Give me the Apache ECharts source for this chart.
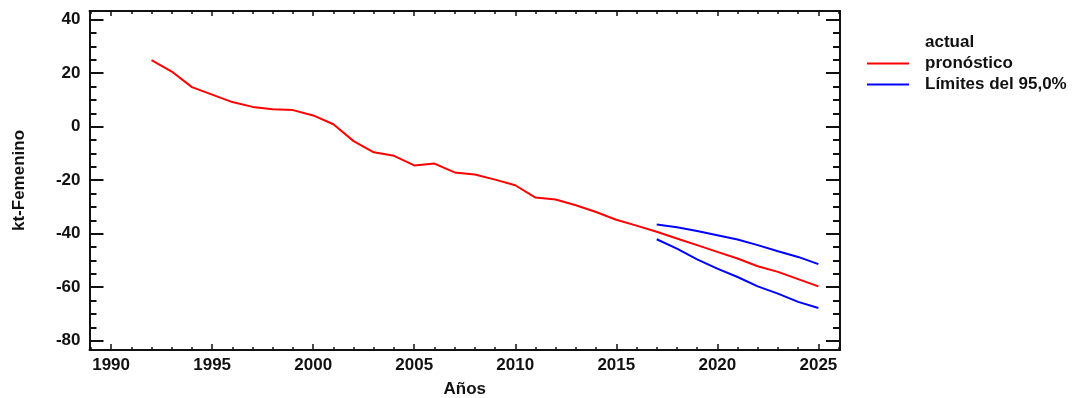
<!DOCTYPE html>
<html>
<head>
<meta charset="utf-8">
<script src="https://cdn.jsdelivr.net/npm/echarts@6/dist/echarts.min.js"></script>
<style>
  html, body { margin: 0; padding: 0; background: #ffffff; }
  #chart { width: 1088px; height: 398px; }
</style>
</head>
<body>
<div id="chart"></div>
<script>
// Fitted / forecast series (1992-2025)
const years = [1992, 1993, 1994, 1995, 1996, 1997, 1998, 1999, 2000, 2001, 2002, 2003,
  2004, 2005, 2006, 2007, 2008, 2009, 2010, 2011, 2012, 2013, 2014, 2015, 2016, 2017,
  2018, 2019, 2020, 2021, 2022, 2023, 2024, 2025];
const forecast = [24.9, 20.6, 14.8, 12.0, 9.2, 7.4, 6.5, 6.2, 4.2, 0.9, -5.4, -9.6,
  -10.9, -14.5, -13.8, -17.1, -17.9, -19.8, -21.9, -26.5, -27.2, -29.4, -31.9, -34.8, -37.0, -39.3,
  -41.8, -44.3, -46.8, -49.3, -52.2, -54.3, -57.0, -59.7];

// 95% limits (2017-2025)
const limitYears = [2017, 2018, 2019, 2020, 2021, 2022, 2023, 2024, 2025];
const upperLimit = [-36.6, -37.6, -39.0, -40.6, -42.2, -44.3, -46.6, -48.7, -51.4];
const lowerLimit = [-42.1, -45.6, -49.6, -53.1, -56.2, -59.7, -62.4, -65.5, -67.8];

// Tick positions and labels
const xMajorTicks = [1990, 1995, 2000, 2005, 2010, 2015, 2020, 2025];
const xMinorTicks = [1989, 1990, 1991, 1992, 1993, 1994, 1995, 1996, 1997, 1998, 1999, 2000,
  2001, 2002, 2003, 2004, 2005, 2006, 2007, 2008, 2009, 2010, 2011, 2012, 2013, 2014, 2015,
  2016, 2017, 2018, 2019, 2020, 2021, 2022, 2023, 2024, 2025, 2026];
const yMajorTicks = [-80, -60, -40, -20, 0, 20, 40];
const yMinorTicks = [-80, -75, -70, -65, -60, -55, -50, -45, -40, -35, -30, -25, -20, -15, -10,
  -5, 0, 5, 10, 15, 20, 25, 30, 35, 40];

const seriesNames = ['actual', 'pronóstico', 'Límites del 95,0%'];

const FONT = '"Liberation Sans", Arial, sans-serif';
const FS = 17;
const INK = '#111111';
const X_MIN = 1988.93, X_MAX = 2026.07;
const Y_MIN = -83.5, Y_MAX = 43.25;

const gridRect = { left: 89.5, right: 248, top: 11, bottom: 48, outerBoundsMode: 'none' };

function xAxis(gridIndex, position, ticks, len, opts) {
  return Object.assign({
    type: 'value', gridIndex: gridIndex, position: position,
    min: X_MIN, max: X_MAX,
    axisLine: { show: gridIndex === 0, onZero: false, lineStyle: { color: INK, width: 2 } },
    axisTick: { show: true, inside: true, length: len, customValues: ticks,
      lineStyle: { color: INK, width: 1.5 } },
    axisLabel: { show: false },
    splitLine: { show: false }
  }, opts || {});
}

function yAxis(gridIndex, position, ticks, len, opts) {
  return Object.assign({
    type: 'value', gridIndex: gridIndex, position: position,
    min: Y_MIN, max: Y_MAX,
    axisLine: { show: gridIndex === 0, onZero: false, lineStyle: { color: INK, width: 2 } },
    axisTick: { show: true, inside: true, length: len, customValues: ticks,
      lineStyle: { color: INK, width: 2 } },
    axisLabel: { show: false },
    splitLine: { show: false }
  }, opts || {});
}

const chart = echarts.init(document.getElementById('chart'), null, { renderer: 'canvas' });

chart.setOption({
  animation: false,
  backgroundColor: '#ffffff',
  textStyle: { fontFamily: FONT },
  grid: [
    Object.assign({}, gridRect),
    Object.assign({}, gridRect)
  ],
  legend: {
    orient: 'vertical',
    left: 867,
    top: 32,
    padding: 0,
    itemGap: 0,
    itemWidth: 42,
    itemHeight: 2,
    icon: 'rect',
    selectedMode: false,
    data: [
      { name: seriesNames[0], itemStyle: { color: 'rgba(0,0,0,0)' } },
      { name: seriesNames[1] },
      { name: seriesNames[2] }
    ],
    textStyle: {
      fontFamily: FONT, fontWeight: 'bold', fontSize: FS, color: INK,
      lineHeight: 21, padding: [0, 0, 0, 11]
    }
  },
  xAxis: [
    xAxis(0, 'bottom', xMajorTicks, 6, {
      name: 'Años', nameLocation: 'middle', nameGap: 31,
      nameTextStyle: { fontFamily: FONT, fontWeight: 'bold', fontSize: FS, color: INK },
      axisLabel: { show: true, customValues: xMajorTicks, margin: 7,
        fontFamily: FONT, fontWeight: 'bold', fontSize: FS, color: INK,
        formatter: v => String(v) }
    }),
    xAxis(0, 'top', xMajorTicks, 5),
    xAxis(1, 'bottom', xMinorTicks, 3),
    xAxis(1, 'top', xMinorTicks, 3)
  ],
  yAxis: [
    yAxis(0, 'left', yMajorTicks, 14, {
      name: 'kt-Femenino', nameLocation: 'middle', nameGap: 62,
      nameTextStyle: { fontFamily: FONT, fontWeight: 'bold', fontSize: FS, color: INK },
      axisLabel: { show: true, customValues: yMajorTicks, margin: 9,
        fontFamily: FONT, fontWeight: 'bold', fontSize: FS, color: INK,
        formatter: v => String(v) }
    }),
    yAxis(0, 'right', yMajorTicks, 14),
    yAxis(1, 'left', yMinorTicks, 7),
    yAxis(1, 'right', yMinorTicks, 7)
  ],
  series: [
    {
      name: seriesNames[0], type: 'line', xAxisIndex: 0, yAxisIndex: 0,
      data: [], symbol: 'none',
      itemStyle: { color: 'rgba(0,0,0,0)' }, lineStyle: { color: 'rgba(0,0,0,0)' }
    },
    {
      name: seriesNames[1], type: 'line', xAxisIndex: 0, yAxisIndex: 0,
      data: years.map((y, i) => [y, forecast[i]]),
      symbol: 'none', silent: true,
      itemStyle: { color: '#ff0000' },
      lineStyle: { color: '#ff0000', width: 2 }
    },
    {
      name: seriesNames[2], type: 'line', xAxisIndex: 0, yAxisIndex: 0,
      data: limitYears.map((y, i) => [y, upperLimit[i]]),
      symbol: 'none', silent: true,
      itemStyle: { color: '#0000ff' },
      lineStyle: { color: '#0000ff', width: 2 }
    },
    {
      name: seriesNames[2], type: 'line', xAxisIndex: 0, yAxisIndex: 0,
      data: limitYears.map((y, i) => [y, lowerLimit[i]]),
      symbol: 'none', silent: true,
      itemStyle: { color: '#0000ff' },
      lineStyle: { color: '#0000ff', width: 2 }
    }
  ]
});
</script>
</body>
</html>
